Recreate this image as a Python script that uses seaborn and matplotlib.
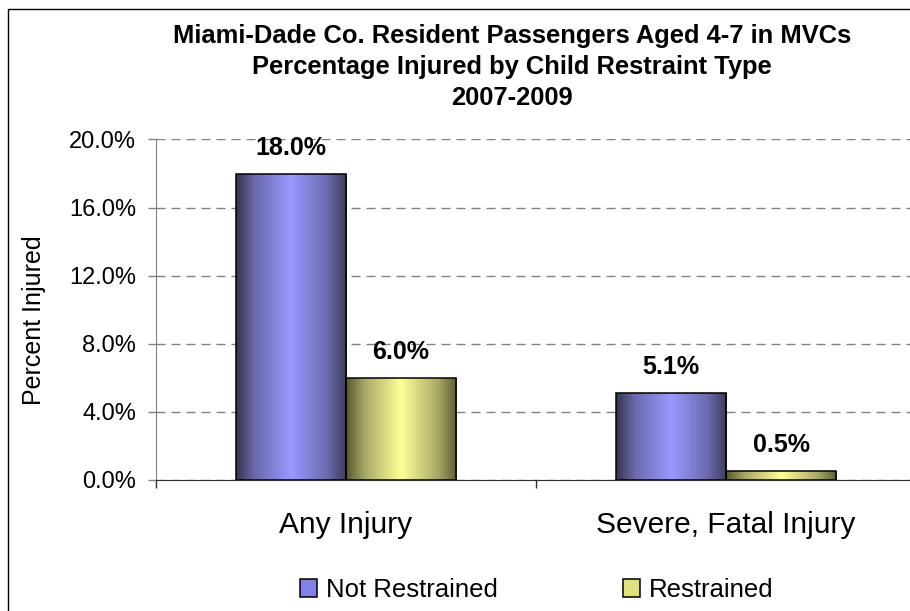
import matplotlib
matplotlib.use("Agg")
import matplotlib.pyplot as plt
import numpy as np
import pandas as pd
import seaborn as sns
from matplotlib.colors import LinearSegmentedColormap
from matplotlib.patches import Patch, Rectangle
from matplotlib.ticker import FuncFormatter, FixedLocator

# values
categories = ["Any Injury", "Severe, Fatal Injury"]
groups = ["Not Restrained", "Restrained"]
not_restrained = [18.0, 5.1]
restrained = [6.0, 0.5]
yticks = [0, 4, 8, 12, 16, 20]

df = pd.DataFrame({
    "injury": categories * 2,
    "restraint": [groups[0]] * 2 + [groups[1]] * 2,
    "pct": not_restrained + restrained,
})

sns.set_style("white")
plt.rcParams["font.family"] = ["Liberation Sans", "DejaVu Sans"]
for key in ["text.color", "axes.labelcolor", "xtick.labelcolor", "ytick.labelcolor"]:
    plt.rcParams[key] = "black"

light = {"Not Restrained": "#9999ff", "Restrained": "#ffff99"}
ramps = {
    "Not Restrained": ["#35354c", "#6a6aae", "#9999ff", "#6a6aae", "#3c3c58"],
    "Restrained": ["#56562f", "#a9a966", "#ffff99", "#a9a966", "#5c5c34"],
}

fig = plt.figure(figsize=(9.1, 6.11), dpi=100)
ax = fig.add_axes([156 / 910, 131 / 611, 760 / 910, 340.5 / 611])

sns.barplot(data=df, x="injury", y="pct", hue="restraint", order=categories,
            hue_order=groups, palette=light, width=0.58, edgecolor="black",
            linewidth=1.1, legend=False, ax=ax)

ax.set_xlim(-0.5, 1.5)
ax.set_ylim(0, 20)

# Excel style side gradient on each bar
grad = np.linspace(0, 1, 256).reshape(1, -1)
bars = [p for p in ax.patches if isinstance(p, Rectangle)]
for i, bar in enumerate(bars):
    grp = groups[i // len(categories)]
    cmap = LinearSegmentedColormap.from_list(grp, list(zip([0, 0.17, 0.5, 0.83, 1], ramps[grp])))
    x0, y0 = bar.get_x(), bar.get_y()
    w, h = bar.get_width(), bar.get_height()
    img = ax.imshow(grad, extent=[x0, x0 + w, y0, y0 + h], aspect="auto",
                    cmap=cmap, zorder=bar.get_zorder() - 0.05, interpolation="bicubic")
    img.set_clip_path(bar)
    bar.set_facecolor("none")
    ax.annotate(f"{h:.1f}%", (x0 + w / 2, y0 + h), xytext=(0, 26),
                textcoords="offset pixels", ha="center", va="center",
                fontsize=18, fontweight="bold")
ax.set_xlim(-0.5, 1.5)
ax.set_ylim(0, 20)

ax.set_axisbelow(True)
ax.yaxis.set_major_locator(FixedLocator(yticks))
ax.yaxis.set_major_formatter(FuncFormatter(lambda v, _: f"{v:.1f}%"))
ax.grid(axis="y", color="#808080", linestyle=(0, (6.5, 4.3)), linewidth=1)
ax.grid(axis="x", visible=False)
sns.despine(ax=ax, top=True, right=True)
ax.spines["left"].set_color("#808080")
ax.spines["bottom"].set_color("#303030")
ax.tick_params(axis="y", direction="out", length=5.8, width=1, color="#808080",
               pad=8.5, labelsize=17, left=True)
ax.tick_params(axis="x", which="major", length=0, pad=22, labelsize=21.5)
ax.set_xticks([-0.5, 0.5, 1.5], minor=True)
ax.tick_params(axis="x", which="minor", direction="out", length=5.8, width=1,
               color="#303030", bottom=True)

ax.set_xlabel("")
ax.set_ylabel("Percent Injured", fontsize=18)
ax.yaxis.set_label_coords(-0.145, 0.47)

handles = [Patch(facecolor="#8282e6", edgecolor="black", linewidth=1.1),
           Patch(facecolor="#e0e07e", edgecolor="black", linewidth=1.1)]
ax.legend(handles, groups, loc="center", bbox_to_anchor=(537 / 910, 21 / 611),
          bbox_transform=fig.transFigure, ncol=2, frameon=False, fontsize=18.5,
          handlelength=0.66, handleheight=0.66, handletextpad=0.35,
          columnspacing=4.85)

fig.suptitle("Miami-Dade Co. Resident Passengers Aged 4-7 in MVCs\n"
             "Percentage Injured by Child Restraint Type\n2007-2009",
             x=512 / 910, y=1 - 67 / 611, va="center", fontsize=18.4,
             fontweight="bold", linespacing=1.37)

# chart border (right and bottom are cut off in the original)
fig.patches.append(Rectangle((8 / 910, -0.1), 1.2, 1.1 - 9 / 611, fill=False,
                             edgecolor="black", linewidth=1,
                             transform=fig.transFigure, figure=fig))

fig.savefig("out.png", dpi=100)
